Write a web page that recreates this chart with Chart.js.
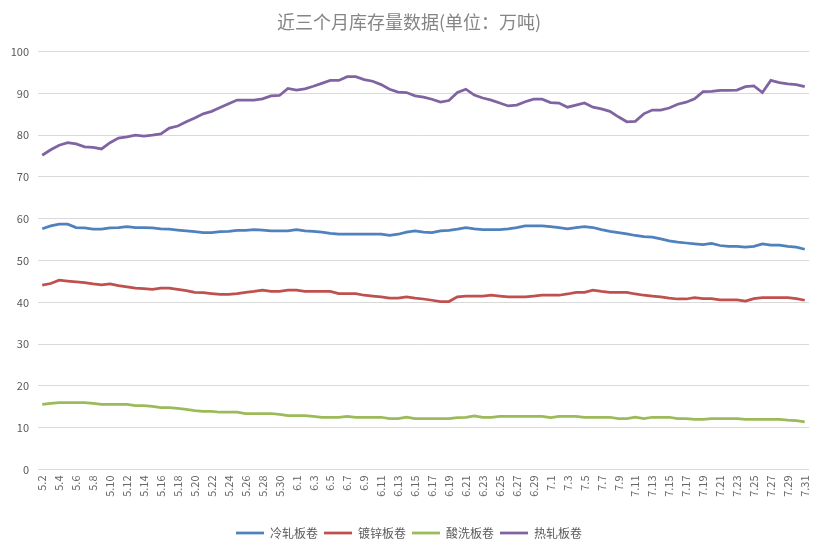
<!DOCTYPE html>
<html>
<head>
<meta charset="utf-8">
<script src="https://cdn.jsdelivr.net/npm/chart.js@4.4.1/dist/chart.umd.min.js"></script>
<style>
  html, body { margin: 0; padding: 0; background: #ffffff; }
  #wrap { width: 824px; height: 551px; position: relative; }
</style>
</head>
<body>
<div id="wrap"><canvas id="c"></canvas></div>
<script>
const categories = [
  "5.2","5.3","5.4","5.5","5.6","5.7","5.8","5.9","5.10","5.11","5.12","5.13","5.14","5.15","5.16",
  "5.17","5.18","5.19","5.20","5.21","5.22","5.23","5.24","5.25","5.26","5.27","5.28","5.29","5.30","5.31",
  "6.1","6.2","6.3","6.4","6.5","6.6","6.7","6.8","6.9","6.10","6.11","6.12","6.13","6.14","6.15",
  "6.16","6.17","6.18","6.19","6.20","6.21","6.22","6.23","6.24","6.25","6.26","6.27","6.28","6.29","6.30",
  "7.1","7.2","7.3","7.4","7.5","7.6","7.7","7.8","7.9","7.10","7.11","7.12","7.13","7.14","7.15","7.16",
  "7.17","7.18","7.19","7.20","7.21","7.22","7.23","7.24","7.25","7.26","7.27","7.28","7.29","7.30","7.31"
];

const coldRolled = [
  57.6, 58.3, 58.7, 58.7, 57.9, 57.8, 57.5, 57.5, 57.8, 57.9, 58.1, 57.9, 57.9, 57.8, 57.6,
  57.5, 57.3, 57.1, 56.9, 56.7, 56.7, 56.9, 57.0, 57.2, 57.2, 57.4, 57.3, 57.1, 57.1, 57.1,
  57.4, 57.1, 57.0, 56.8, 56.5, 56.3, 56.3, 56.3, 56.3, 56.3, 56.3, 56.0, 56.3, 56.8, 57.1,
  56.8, 56.7, 57.1, 57.2, 57.5, 57.9, 57.6, 57.4, 57.4, 57.4, 57.6, 57.9, 58.3, 58.3, 58.3,
  58.1, 57.9, 57.6, 57.9, 58.1, 57.9, 57.4, 57.0, 56.7, 56.4, 56.0, 55.7, 55.6, 55.2, 54.7, 54.4,
  54.2, 54.0, 53.8, 54.1, 53.6, 53.4, 53.4, 53.2, 53.4, 54.0, 53.7, 53.7, 53.4, 53.2, 52.7
];

const galvanized = [
  44.1, 44.5, 45.3, 45.1, 44.9, 44.7, 44.4, 44.2, 44.4, 44.0, 43.7, 43.4, 43.3, 43.1, 43.4,
  43.4, 43.1, 42.8, 42.4, 42.3, 42.1, 41.9, 41.9, 42.1, 42.4, 42.6, 42.9, 42.6, 42.6, 42.9,
  42.9, 42.6, 42.6, 42.6, 42.6, 42.1, 42.1, 42.1, 41.7, 41.5, 41.3, 41.0, 41.0, 41.3, 41.0,
  40.8, 40.5, 40.2, 40.2, 41.3, 41.5, 41.5, 41.5, 41.7, 41.5, 41.3, 41.3, 41.3, 41.5, 41.7,
  41.7, 41.7, 42.0, 42.4, 42.4, 42.9, 42.6, 42.4, 42.4, 42.4, 42.0, 41.7, 41.5, 41.3, 41.0, 40.8,
  40.8, 41.1, 40.9, 40.9, 40.6, 40.6, 40.6, 40.3, 40.9, 41.1, 41.1, 41.1, 41.1, 40.9, 40.5
];

const pickled = [
  15.6, 15.8, 16.0, 16.0, 16.0, 16.0, 15.8, 15.6, 15.6, 15.6, 15.6, 15.3, 15.3, 15.1, 14.8,
  14.8, 14.6, 14.4, 14.1, 13.9, 13.9, 13.7, 13.7, 13.7, 13.4, 13.4, 13.4, 13.4, 13.2, 12.9,
  12.9, 12.9, 12.7, 12.5, 12.5, 12.5, 12.7, 12.5, 12.5, 12.5, 12.5, 12.2, 12.2, 12.5, 12.2,
  12.2, 12.2, 12.2, 12.2, 12.4, 12.5, 12.8, 12.5, 12.5, 12.7, 12.7, 12.7, 12.7, 12.7, 12.7,
  12.4, 12.7, 12.7, 12.7, 12.5, 12.5, 12.5, 12.5, 12.2, 12.2, 12.5, 12.2, 12.5, 12.5, 12.5, 12.2,
  12.2, 12.0, 12.0, 12.2, 12.2, 12.2, 12.2, 12.0, 12.0, 12.0, 12.0, 12.0, 11.8, 11.7, 11.4
];

const hotRolled = [
  75.2, 76.5, 77.6, 78.2, 77.9, 77.2, 77.1, 76.7, 78.2, 79.3, 79.6, 80.0, 79.8, 80.0, 80.3,
  81.7, 82.2, 83.2, 84.1, 85.1, 85.7, 86.6, 87.5, 88.4, 88.4, 88.4, 88.7, 89.4, 89.5, 91.2,
  90.8, 91.1, 91.7, 92.4, 93.1, 93.1, 94.0, 94.0, 93.3, 92.9, 92.1, 91.0, 90.3, 90.2, 89.4,
  89.1, 88.6, 87.9, 88.3, 90.2, 91.0, 89.6, 88.9, 88.4, 87.7, 87.0, 87.2, 88.0, 88.6, 88.6,
  87.8, 87.7, 86.7, 87.2, 87.7, 86.7, 86.3, 85.7, 84.4, 83.2, 83.3, 85.1, 86.0, 86.0, 86.5, 87.4,
  87.9, 88.7, 90.4, 90.5, 90.7, 90.7, 90.8, 91.6, 91.8, 90.2, 93.1, 92.6, 92.3, 92.1, 91.6
];

const seriesNames = ["冷轧板卷", "镀锌板卷", "酸洗板卷", "热轧板卷"];
const seriesColors = ["#4f81bd", "#c0504d", "#9bbb59", "#8064a2"];
const seriesValues = [coldRolled, galvanized, pickled, hotRolled];

const yTicksMin = 0, yTicksMax = 100, yTicksStep = 10;
const titleText = "近三个月库存量数据(单位：万吨)";

const FONT = '"Noto Sans CJK SC", "Noto Sans", sans-serif';

const datasets = seriesNames.map((name, k) => ({
  label: name,
  data: seriesValues[k],
  borderColor: seriesColors[k],
  backgroundColor: seriesColors[k],
  borderWidth: 2.75,
  pointRadius: 0,
  pointHoverRadius: 0,
  tension: 0,
  fill: false
}));

new Chart(document.getElementById('c'), {
  type: 'line',
  data: { labels: categories, datasets },
  options: {
    responsive: true,
    maintainAspectRatio: false,
    animation: false,
    devicePixelRatio: 1,
    layout: { padding: { left: 4, right: 10, top: 0, bottom: 2 } },
    plugins: {
      title: {
        display: true,
        text: titleText,
        color: '#858585',
        font: { family: FONT, size: 18, weight: 'normal' },
        padding: { top: 11, bottom: 19 }
      },
      legend: {
        position: 'bottom',
        labels: {
          usePointStyle: true,
          pointStyle: 'line',
          pointStyleWidth: 28,
          boxHeight: 3,
          padding: 6,
          color: '#595959',
          font: { family: FONT, size: 12 }
        }
      },
      tooltip: { enabled: false }
    },
    scales: {
      x: {
        type: 'category',
        offset: true,
        grid: { display: false, drawTicks: false },
        border: { display: true, color: '#d9d9d9' },
        ticks: {
          autoSkip: false,
          maxRotation: 90,
          minRotation: 90,
          padding: 6,
          color: '#666666',
          font: { family: FONT, size: 11 },
          callback: function(value, index) { return index % 2 === 0 ? categories[index] : ''; }
        },
        afterFit: function(scale) { scale.height = 51.5; }
      },
      y: {
        min: yTicksMin,
        max: yTicksMax,
        grid: { color: '#d9d9d9', lineWidth: 1, drawTicks: false },
        border: { display: false },
        ticks: {
          stepSize: yTicksStep,
          padding: 9,
          color: '#595959',
          font: { family: FONT, size: 11 }
        },
        afterFit: function(scale) { scale.width = 34; }
      }
    }
  }
});
</script>
</body>
</html>
